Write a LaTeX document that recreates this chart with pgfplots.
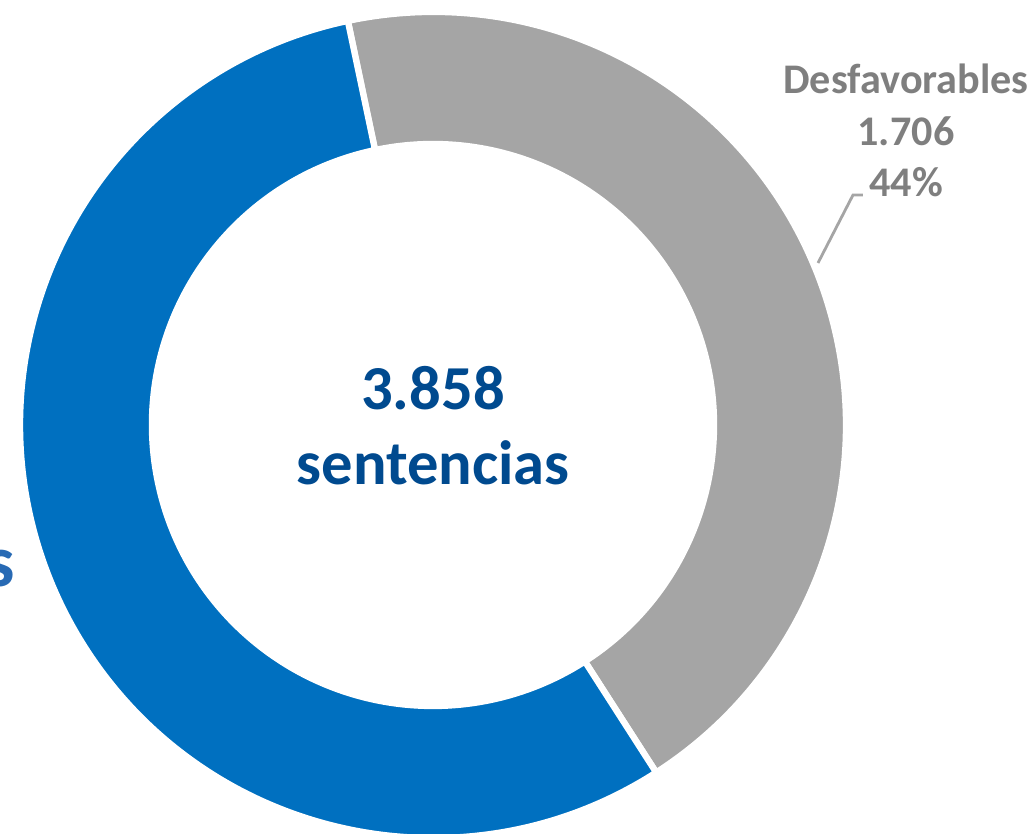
\documentclass[border=0pt]{standalone}
\usepackage{pgfplots}
\pgfplotsset{compat=1.18}
\usepackage{fontspec}
\setmainfont{Carlito}
\definecolor{cblue}{RGB}{0,112,192}
\definecolor{cgray}{RGB}{165,165,165}
\definecolor{ctext}{RGB}{0,74,143}
\definecolor{clab}{RGB}{127,127,127}
\definecolor{cleft}{RGB}{40,106,180}
% data
\def\valDes{1706}
\def\valFav{2152}
\begin{document}
\begin{tikzpicture}
\pgfmathsetmacro{\tot}{\valDes+\valFav}
\pgfmathsetmacro{\frac}{\valDes/\tot}
\pgfmathsetmacro{\aS}{101.9}
\pgfmathsetmacro{\aM}{\aS-360*\frac}
\pgfmathsetmacro{\aE}{\aS-360}
\begin{axis}[
  scale only axis, width=103.3mm, height=83.4mm,
  xmin=0, xmax=1033, ymin=0, ymax=834,
  hide axis, clip=false,
]
\coordinate (C) at (axis cs:433,409);
% gray slice (Desfavorables)
\fill[cgray, draw=white, line width=1.8pt]
  ([shift={(\aS:41.3mm)}]C) arc[start angle=\aS, end angle=\aM, radius=41.3mm]
  -- ([shift={(\aM:28.1mm)}]C) arc[start angle=\aM, end angle=\aS, radius=28.1mm] -- cycle;
% blue slice (Favorables)
\fill[cblue, draw=white, line width=1.8pt]
  ([shift={(\aM:41.3mm)}]C) arc[start angle=\aM, end angle=\aE, radius=41.3mm]
  -- ([shift={(\aE:28.1mm)}]C) arc[start angle=\aE, end angle=\aM, radius=28.1mm] -- cycle;
% leader line
\draw[cgray, line width=0.8pt] (axis cs:818,571) -- (axis cs:853,639) -- (axis cs:863,639);
% labels
\node[text=clab, font=\fontsize{12}{14.6}\selectfont\bfseries, align=center, anchor=north]
  at (axis cs:906,782) {Desfavorables\\1.706\\44\%};
\node[text=cleft, font=\fontsize{21}{25}\selectfont\bfseries, anchor=base east, inner xsep=0pt]
  at (axis cs:16,247) {Favorables};
\node[text=ctext, font=\fontsize{17.8}{21.3}\selectfont\bfseries, align=center]
  at (axis cs:433,408) {3.858\\sentencias};
\end{axis}
\pgfresetboundingbox
\path[use as bounding box] (current axis.south west) rectangle (current axis.north east);
\end{tikzpicture}
\end{document}
